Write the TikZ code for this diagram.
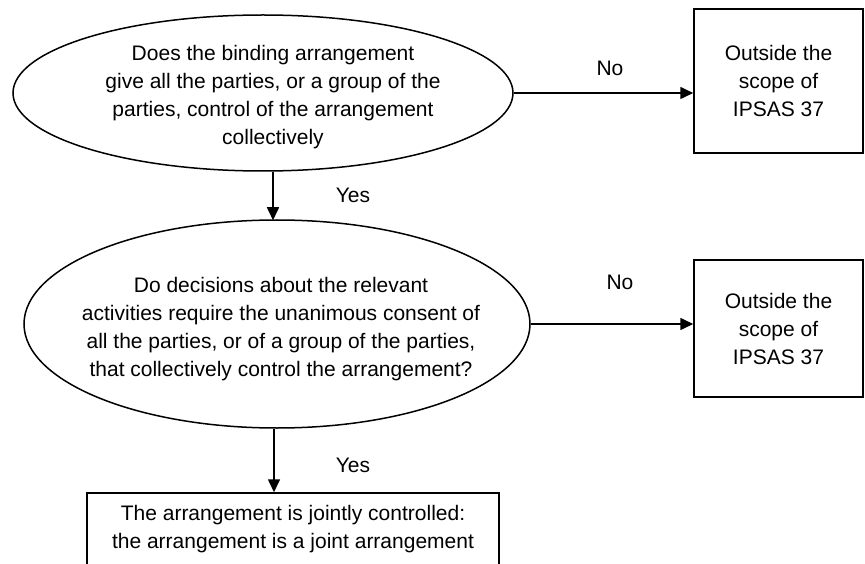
\documentclass[tikz,border=0pt]{standalone}
\usepackage{fontspec}
\setmainfont{Liberation Sans}
\usetikzlibrary{shapes.geometric,arrows.meta,calc}
\tikzset{
  line/.style={line width=1.6pt},
  arr/.style={line, -{Triangle[length=13pt,width=12pt]}},
  oval/.style={ellipse, draw, line width=1.5pt, inner sep=0pt},
  box/.style={rectangle, draw, line width=1.5pt, inner sep=0pt, align=center},
  txt/.style={align=center, inner sep=0pt},
  lbl/.style={inner sep=0pt},
}
\begin{document}
\begin{tikzpicture}[x=1pt, y=-1pt, font=\fontsize{21}{28}\selectfont]
\useasboundingbox (0,0) rectangle (865,564);
\clip (0,0) rectangle (865,564);
\fill[white] (0,0) rectangle (865,564);
% ellipses
\node[oval, minimum width=500pt, minimum height=156pt] (e1) at (263,93) {};
\node[txt] (t1) at (273,97) {Does the binding arrangement\\give all the parties, or a group of the\\parties, control of the arrangement\\collectively};
\node[oval, minimum width=506pt, minimum height=208pt] (e2) at (277,324) {};
\node[txt] (t2) at (281,329) {Do decisions about the relevant\\activities require the unanimous consent of\\all the parties, or of a group of the parties,\\that collectively control the arrangement?};
% boxes
\node[box, minimum width=169pt, minimum height=144pt] (b1) at (778.5,81) {Outside the\\scope of\\IPSAS 37};
\node[box, minimum width=169pt, minimum height=137pt] (b2) at (778.5,328.5) {Outside the\\scope of\\IPSAS 37};
\node[box, minimum width=412pt, minimum height=90pt] (b3) at (293,538) {};
\node[txt] (t3) at (293,529) {The arrangement is jointly controlled:\\the arrangement is a joint arrangement};
% helper coordinates
\coordinate (a1) at (273,0);
\coordinate (a2) at (274,0);
% connectors
\draw[arr] (e1.east) -- (e1.east -| b1.west);
\draw[arr] (e2.east) -- (e2.east -| b2.west);
\draw[arr] (e1.south -| a1) -- ($(e2.north -| a1)+(0,1)$);
\draw[arr] (e2.south -| a2) -- (b3.north -| a2);
% labels
\node[lbl] (n1) at (610,68) {No};
\node[lbl] (n2) at (620,282) {No};
\node[lbl] (y1) at (353,195) {Yes};
\node[lbl] (y2) at (353,465) {Yes};
\end{tikzpicture}
\end{document}
